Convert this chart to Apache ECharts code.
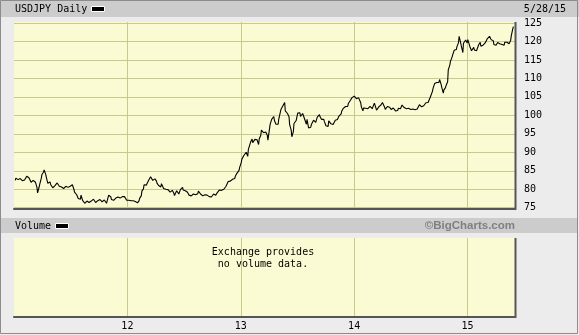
<!DOCTYPE html>
<html><head><meta charset="utf-8">
<script src="https://cdn.jsdelivr.net/npm/echarts@6/dist/echarts.min.js"></script>
<style>html,body{margin:0;padding:0;background:#ececec;overflow:hidden;}#c{width:579px;height:335px;}</style>
</head><body><div id="c"></div>
<script>
// ---- data ----
const seriesTitle = 'USDJPY Daily';
const lastDateLabel = '5/28/15';
const volumeTitle = 'Volume';
const copyright = '\u00A9BigCharts.com';
const volumeNote = ['Exchange provides', 'no volume data.'];
const axisStart = '2011-01-01';
const axisEnd = '2015-06-03';
const firstWeek = '2011-01-07';
const yearTickLabels = ['12', '13', '14', '15'];
const priceMin = 75, priceMax = 125, priceStep = 5;

// Friday closes (Jan 2011 .. May 2015)
const closes2011 = [83.0,82.6,82.9,82.3,82.5,83.5,83.1,81.9,82.4,81.9,79.0,81.4,84.0,85.2,83.3,82.0,81.3,80.4,81.0,81.7,80.8,80.6,80.2,80.8,80.5,80.8,81.2,79.2,78.5,77.8,78.4,76.8,76.6,76.5,76.8,77.2,76.8,76.6,77.0,76.7,77.0,76.6,75.9,78.2,77.2,77.0,77.6,77.9,77.6,78.0,78.0,77.0];
const closes2012 = [77.0,76.9,76.9,76.7,76.3,77.6,79.5,81.2,81.1,82.3,83.4,82.4,82.8,81.6,80.8,81.5,80.2,80.0,79.9,79.2,79.7,78.3,79.6,78.7,80.4,79.8,79.6,79.2,78.5,78.6,78.4,78.3,79.5,78.7,78.2,78.5,78.4,78.0,77.9,78.7,78.4,79.3,79.7,80.0,79.5,81.3,82.3,82.5,82.4,83.5,84.3,85.9];
const closes2013 = [88.1,89.2,90.0,90.8,92.7,92.6,93.5,93.4,93.6,96.0,95.3,95.5,93.3,97.5,99.3,98.6,98.0,99.0,101.6,102.8,101.2,100.5,97.5,94.2,97.8,98.6,101.1,99.7,100.5,98.8,98.9,96.3,97.5,98.7,98.1,99.1,99.6,99.3,98.3,97.3,98.5,97.7,97.5,98.7,98.9,100.1,101.2,102.4,102.9,103.2,104.1,104.9];
const closes2014 = [104.8,104.2,104.3,102.3,102.0,101.9,101.8,102.4,101.8,103.3,101.4,102.3,102.8,103.3,101.6,102.4,102.2,102.1,101.6,101.5,101.9,101.8,102.4,102.0,102.0,101.4,102.0,101.3,101.3,101.8,102.6,102.0,102.4,103.8,103.9,105.2,107.3,108.9,109.3,109.7,107.6,106.9,108.1,112.3,114.6,116.3,117.8,118.6,121.4,118.8,119.5,120.4];
const closes2015 = [120.5,118.5,117.0,117.7,117.5,119.1,118.7,119.0,119.6,120.8,121.4,120.0,119.2,119.0,120.2,118.9,118.9,119.8,119.8,119.4,121.5,124.0];

// mid-week (Wednesday) values, one per week
const mid2011 = [82.4,83.4,82.3,82.9,81.8,82.6,83.7,82.6,82.0,82.8,80.5,80.6,83.0,84.6,84.1,81.6,82.0,81.0,80.6,81.2,81.5,80.3,80.8,80.2,80.9,80.4,80.5,80.0,79.4,77.5,77.3,77.0,76.2,76.8,76.4,76.8,77.3,76.4,76.9,77.2,76.6,77.1,76.2,78.4,77.9,77.3,77.0,77.8,77.4,77.7,78.2,77.8];
const mid2012 = [76.8,77.3,76.6,77.2,76.4,76.9,78.2,80.1,81.6,81.4,82.6,83.8,82.1,82.2,81.0,80.6,81.2,79.9,80.3,79.6,79.4,78.9,78.6,79.3,79.9,80.5,79.3,79.6,78.4,78.2,78.7,78.5,78.8,79.3,78.4,78.0,78.8,78.2,78.2,78.3,78.9,79.1,79.8,79.7,80.0,80.8,82.1,82.2,82.7,82.9,84.3,85.1];
const mid2013 = [87.2,87.8,89.6,88.9,91.2,93.6,92.9,94.0,92.1,94.6,96.4,94.8,94.6,93.0,98.9,99.7,97.6,97.6,99.2,102.4,103.5,101.0,99.6,96.0,95.6,97.8,100.6,100.7,99.8,100.2,97.6,96.6,96.8,97.8,98.8,99.5,100.2,98.9,98.9,97.2,97.0,98.6,98.0,97.9,99.2,99.8,100.4,101.9,102.4,102.4,103.4,104.8];
const mid2014 = [105.2,104.5,104.8,103.4,101.2,102.3,102.4,101.9,102.3,102.1,102.9,101.6,102.1,103.5,102.2,101.8,102.6,101.6,102.0,101.2,101.3,102.1,102.8,102.1,101.8,101.9,101.6,101.7,101.5,101.7,102.9,102.3,102.6,103.4,103.5,104.9,106.5,108.6,108.9,108.9,108.4,106.0,107.5,109.1,113.6,115.7,117.6,117.8,119.7,119.6,117.0,120.0];
const mid2015 = [119.6,119.1,117.5,118.4,117.8,117.3,119.8,118.7,119.3,119.8,121.3,120.5,120.2,119.6,119.7,119.4,119.2,119.0,119.9,119.8,120.3,123.5];

// ---- build ----
const DAY = 86400000;
const t0 = Date.parse(axisStart);
const spanDays = (Date.parse(axisEnd) - t0) / DAY;
const week0 = (Date.parse(firstWeek) - t0) / DAY;
const allCloses = [].concat(closes2011, closes2012, closes2013, closes2014, closes2015);
const allMids = [].concat(mid2011, mid2012, mid2013, mid2014, mid2015);
const lineData = [];
allCloses.forEach((v, i) => {
  lineData.push([week0 + 7 * i - 2, allMids[i]]);
  lineData.push([week0 + 7 * i, v]);
});
const YEAR = 365.25;

const FONT = 'DejaVu Sans Mono';
const GRID_COLOR = '#c9c98f';
const PLOT_BG = '#fbfbd3';
const EDGE = '#555555';

function xAxisBase(gi, extra) {
  return Object.assign({
    gridIndex: gi, type: 'value', min: 0, max: spanDays, interval: YEAR,
    axisLine: { show: true, onZero: false, lineStyle: { color: EDGE, width: 2 } },
    axisTick: { show: false },
    axisLabel: { show: false },
    splitLine: { show: true, showMinLine: false, showMaxLine: false, lineStyle: { color: GRID_COLOR, width: 1 } }
  }, extra || {});
}
function hiddenYAxis(gi) {
  return { gridIndex: gi, type: 'value', min: 0, max: 1, show: false };
}

const chart = echarts.init(document.getElementById('c'), null, { renderer: 'canvas' });
chart.setOption({
  animation: false,
  backgroundColor: '#ececec',
  grid: [
    { left: 14, top: 22, width: 501, height: 187, show: true, backgroundColor: PLOT_BG, borderWidth: 0, borderColor: 'transparent' },
    { left: 14, top: 23, width: 501, height: 184.7, show: false },
    { left: 14, top: 238, width: 501, height: 79, show: true, backgroundColor: PLOT_BG, borderWidth: 0, borderColor: 'transparent' }
  ],
  xAxis: [
    xAxisBase(0),
    xAxisBase(1, { show: false }),
    xAxisBase(2, {
      axisLabel: {
        show: true, margin: 4, color: '#000', fontFamily: FONT, fontSize: 10,
        showMinLabel: false, showMaxLabel: false,
        formatter: v => yearTickLabels[Math.round(v / YEAR) - 1] || ''
      }
    })
  ],
  yAxis: [
    hiddenYAxis(0),
    {
      gridIndex: 1, type: 'value', min: priceMin, max: priceMax, interval: priceStep, position: 'right',
      axisLine: { show: false }, axisTick: { show: false },
      axisLabel: { margin: 9, color: '#000', fontFamily: FONT, fontSize: 10 },
      splitLine: { show: true, lineStyle: { color: GRID_COLOR, width: 1 } }
    },
    hiddenYAxis(2)
  ],
  series: [{
    type: 'line', xAxisIndex: 1, yAxisIndex: 1, data: lineData,
    showSymbol: false, symbol: 'none',
    lineStyle: { color: '#000', width: 1.1 }, z: 5
  }],
  graphic: [
    { type: 'rect', shape: { x: 0, y: 0, width: 579, height: 17 }, style: { fill: '#cccccc' }, silent: true },
    { type: 'rect', shape: { x: 1, y: 218, width: 577, height: 15 }, style: { fill: '#cccccc' }, silent: true },
    { type: 'rect', shape: { x: 0.5, y: 0.5, width: 577, height: 333 }, style: { fill: null, stroke: '#8c8c8c', lineWidth: 1 }, silent: true },
    { type: 'line', shape: { x1: 515.5, y1: 22, x2: 515.5, y2: 210 }, style: { stroke: EDGE, lineWidth: 2 }, silent: true, z: 20 },
    { type: 'line', shape: { x1: 515.5, y1: 238, x2: 515.5, y2: 318 }, style: { stroke: EDGE, lineWidth: 2 }, silent: true, z: 20 },
    { type: 'text', x: 15, y: 9.5, style: { text: seriesTitle, font: '10px "DejaVu Sans Mono"', fill: '#000', textVerticalAlign: 'middle', verticalAlign: 'middle' } },
    { type: 'rect', shape: { x: 91.5, y: 6.5, width: 13, height: 5 }, style: { fill: '#000', stroke: '#fff', lineWidth: 1 } },
    { type: 'text', x: 566, y: 9.5, style: { text: lastDateLabel, font: '10px "DejaVu Sans Mono"', fill: '#000', textAlign: 'right', align: 'right', textVerticalAlign: 'middle', verticalAlign: 'middle' } },
    { type: 'text', x: 15, y: 226, style: { text: volumeTitle, font: '10px "DejaVu Sans Mono"', fill: '#000', textVerticalAlign: 'middle', verticalAlign: 'middle' } },
    { type: 'rect', shape: { x: 55.5, y: 223.5, width: 13, height: 5 }, style: { fill: '#000', stroke: '#fff', lineWidth: 1 } },
    { type: 'text', x: 515, y: 226, style: { text: copyright, font: 'bold 11.5px "Liberation Sans"', fill: '#808080', textAlign: 'right', align: 'right', textVerticalAlign: 'middle', verticalAlign: 'middle' } },
    { type: 'text', x: 263, y: 252, z: 10, style: { text: volumeNote[0], font: '10px "DejaVu Sans Mono"', fill: '#000', textAlign: 'center', align: 'center', textVerticalAlign: 'middle', verticalAlign: 'middle' } },
    { type: 'text', x: 263, y: 264, z: 10, style: { text: volumeNote[1], font: '10px "DejaVu Sans Mono"', fill: '#000', textAlign: 'center', align: 'center', textVerticalAlign: 'middle', verticalAlign: 'middle' } }
  ]
});
</script>
</body></html>
